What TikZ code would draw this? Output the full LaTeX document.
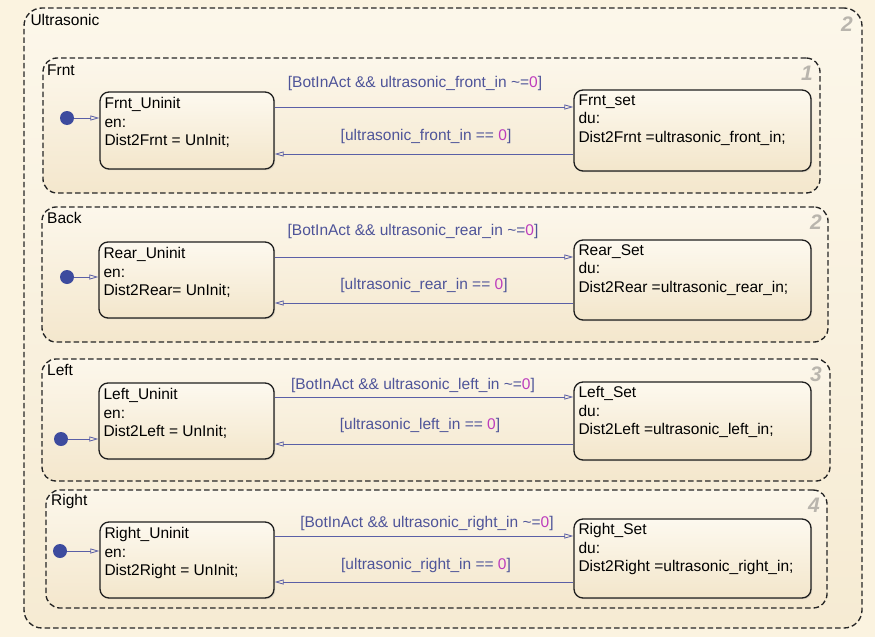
\documentclass[tikz,border=0pt]{standalone}
\usepackage{fontspec}
\setmainfont{Liberation Sans}
\usetikzlibrary{arrows.meta,shadows,calc}
\definecolor{pagebg}{HTML}{FBF3E0}
\definecolor{chTop}{HTML}{FCF7EA}
\definecolor{chBot}{HTML}{F6EBD3}
\definecolor{subTop}{HTML}{FCF7EB}
\definecolor{subBot}{HTML}{F4E7CD}
\definecolor{stTop}{HTML}{FDF9EF}
\definecolor{stBot}{HTML}{F3E6CB}
\definecolor{dashc}{HTML}{262626}
\definecolor{trc}{HTML}{5A5FA6}
\definecolor{lblc}{HTML}{4E5499}
\definecolor{zeroc}{HTML}{BD3DBD}
\definecolor{dotc}{HTML}{3D4B9E}
\definecolor{numc}{HTML}{B9B5AD}
\newcommand{\zr}{\textcolor{zeroc}{0}}
\begin{document}
\begin{tikzpicture}[x=1pt,y=-1pt,
  font=\fontsize{15.5}{18.5}\selectfont,
  chartbox/.style={draw=dashc, dash pattern=on 5.5pt off 3pt, line width=1.35pt,
    rounded corners=18pt, top color=chTop, bottom color=chBot, inner sep=0pt},
  subbox/.style={draw=dashc, dash pattern=on 5.5pt off 3pt, line width=1.35pt,
    rounded corners=14pt, top color=subTop, bottom color=subBot, inner sep=0pt},
  stbox/.style={draw=black!88, line width=1.3pt, rounded corners=9pt,
    top color=stTop, bottom color=stBot, inner sep=0pt,
    drop shadow={shadow xshift=1.2pt, shadow yshift=-1.2pt, opacity=0.25}},
  sttext/.style={anchor=north west, align=left, inner sep=0pt, text=black},
  boxlbl/.style={anchor=west, inner sep=0pt, text=black},
  numlbl/.style={inner sep=0pt, text=numc, font=\fontsize{21}{21}\selectfont\bfseries\itshape},
  trlbl/.style={inner sep=0pt, text=lblc},
  initdot/.style={circle, fill=dotc, minimum size=14pt, inner sep=0pt},
  trarr/.style={draw=trc, line width=0.8pt, -{Triangle[open, length=9pt, width=5pt]}},
]
\useasboundingbox[fill=pagebg] (0,0) rectangle (875,637);

% outer chart
\node[chartbox, minimum width=838pt, minimum height=620pt] (ultra) at (443,318) {};
\node[boxlbl] (ultral) at ([xshift=7pt, yshift=-13pt]ultra.north west) {Ultrasonic};
\node[numlbl] (ultran) at (847,24) {2};

% ---------------- Frnt ----------------
\node[subbox, minimum width=777pt, minimum height=135pt] (frnt) at (431.5,125.5) {};
\node[boxlbl] (frntl) at (47,70) {Frnt};
\node[numlbl] (frntn) at (807,73) {1};
\node[stbox, minimum width=174pt, minimum height=77pt] (fu) at (187,130.5) {};
\node[sttext] (fut) at ([xshift=5pt, yshift=-6pt]fu.north west) {Frnt\_Uninit\\en:\\Dist2Frnt = UnInit;};
\node[stbox, minimum width=237pt, minimum height=81pt] (fs) at (692.5,130.5) {};
\node[sttext] (fst) at ([xshift=5pt, yshift=-5pt]fs.north west) {Frnt\_set\\du:\\Dist2Frnt =ultrasonic\_front\_in;};
\node[initdot] (fd) at (67,118) {};
\draw[trarr] (fd) -- (fu.west |- fd);
\coordinate (f1) at (0,107);
\coordinate (f2) at (0,154);
\draw[trarr] (fu.east |- f1) -- (fs.west |- f1);
\draw[trarr] (fs.west |- f2) -- (fu.east |- f2);
\node[trlbl] (fl1) at (415,83) {[BotInAct \&\& ultrasonic\_front\_in \textasciitilde=\zr]};
\node[trlbl] (fl2) at (426,136) {[ultrasonic\_front\_in == \zr]};

% ---------------- Back ----------------
\node[subbox, minimum width=786pt, minimum height=135pt] (back) at (435,274.5) {};
\node[boxlbl] (backl) at (47,218) {Back};
\node[numlbl] (backn) at (816,222) {2};
\node[stbox, minimum width=175pt, minimum height=76pt] (ru) at (186.5,280) {};
\node[sttext] (rut) at ([xshift=5pt, yshift=-6pt]ru.north west) {Rear\_Uninit\\en:\\Dist2Rear= UnInit;};
\node[stbox, minimum width=237pt, minimum height=80pt] (rs) at (692.5,280) {};
\node[sttext] (rst) at ([xshift=5pt, yshift=-5pt]rs.north west) {Rear\_Set\\du:\\Dist2Rear =ultrasonic\_rear\_in;};
\node[initdot] (rd) at (67,277) {};
\draw[trarr] (rd) -- (ru.west |- rd);
\coordinate (r1) at (0,257);
\coordinate (r2) at (0,303);
\draw[trarr] (ru.east |- r1) -- (rs.west |- r1);
\draw[trarr] (rs.west |- r2) -- (ru.east |- r2);
\node[trlbl] (rl1) at (413,231) {[BotInAct \&\& ultrasonic\_rear\_in \textasciitilde=\zr]};
\node[trlbl] (rl2) at (424,285) {[ultrasonic\_rear\_in == \zr]};

% ---------------- Left ----------------
\node[subbox, minimum width=788pt, minimum height=122pt] (left) at (436,420) {};
\node[boxlbl] (leftl) at (47,370) {Left};
\node[numlbl] (leftn) at (816,374) {3};
\node[stbox, minimum width=175pt, minimum height=76pt] (lu) at (186.5,421) {};
\node[sttext] (lut) at ([xshift=5pt, yshift=-6pt]lu.north west) {Left\_Uninit\\en:\\Dist2Left = UnInit;};
\node[stbox, minimum width=237pt, minimum height=78pt] (ls) at (692.5,421) {};
\node[sttext] (lst) at ([xshift=5pt, yshift=-5pt]ls.north west) {Left\_Set\\du:\\Dist2Left =ultrasonic\_left\_in;};
\node[initdot] (ld) at (61,439) {};
\draw[trarr] (ld) -- (lu.west |- ld);
\coordinate (l1) at (0,397);
\coordinate (l2) at (0,444);
\draw[trarr] (lu.east |- l1) -- (ls.west |- l1);
\draw[trarr] (ls.west |- l2) -- (lu.east |- l2);
\node[trlbl] (ll1) at (413,385) {[BotInAct \&\& ultrasonic\_left\_in \textasciitilde=\zr]};
\node[trlbl] (ll2) at (420,425) {[ultrasonic\_left\_in == \zr]};

% ---------------- Right ----------------
\node[subbox, minimum width=781pt, minimum height=118pt] (right) at (436.5,549) {};
\node[boxlbl] (rightl) at (51,501) {Right};
\node[numlbl] (rightn) at (814,505) {4};
\node[stbox, minimum width=174pt, minimum height=76pt] (gu) at (187,560) {};
\node[sttext] (gut) at ([xshift=5pt, yshift=-6pt]gu.north west) {Right\_Uninit\\en:\\Dist2Right = UnInit;};
\node[stbox, minimum width=237pt, minimum height=79pt] (gs) at (692.5,558.5) {};
\node[sttext] (gst) at ([xshift=5pt, yshift=-5pt]gs.north west) {Right\_Set\\du:\\Dist2Right =ultrasonic\_right\_in;};
\node[initdot] (gd) at (60,551) {};
\draw[trarr] (gd) -- (gu.west |- gd);
\coordinate (g1) at (0,536);
\coordinate (g2) at (0,582);
\draw[trarr] (gu.east |- g1) -- (gs.west |- g1);
\draw[trarr] (gs.west |- g2) -- (gu.east |- g2);
\node[trlbl] (gl1) at (427,523) {[BotInAct \&\& ultrasonic\_right\_in \textasciitilde=\zr]};
\node[trlbl] (gl2) at (426,565) {[ultrasonic\_right\_in == \zr]};
\end{tikzpicture}
\end{document}
